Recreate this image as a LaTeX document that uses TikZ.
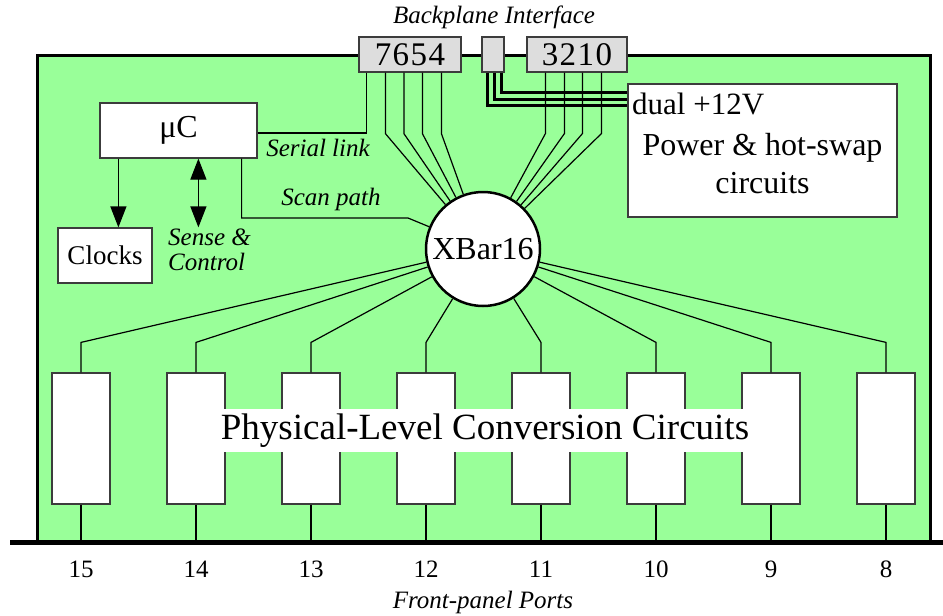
\documentclass[tikz,border=0pt]{standalone}
\usepackage{fontspec}
\setmainfont{Liberation Serif}
\usetikzlibrary{arrows.meta,calc}
\definecolor{boardgreen}{RGB}{153,255,153}
\definecolor{conngray}{RGB}{221,221,221}
\definecolor{edgegray}{RGB}{60,60,60}
\newcommand\setfs[1]{\fontsize{#1}{#1}\selectfont}
\begin{document}
\begin{tikzpicture}[x=1pt,y=-1pt,
  wire/.style={line width=1.2, black},
  pwr/.style={line width=2.5, black},
  blk/.style={draw=edgegray, line width=1.2, fill=white, inner sep=0},
  conn/.style={draw=edgegray, line width=1.2, fill=conngray, inner sep=0, font=\setfs{33}, minimum height=35},
  lbl/.style={inner sep=0, font=\itshape\setfs{25}},
  num/.style={inner sep=0, font=\setfs{25}},
  arr/.style={wire, -{Triangle[width=16pt,length=21pt]}},
  darr/.style={wire, {Triangle[width=16pt,length=21pt]}-{Triangle[width=16pt,length=21pt]}}
]
\useasboundingbox (0,0) rectangle (943,616);
% board
\fill[boardgreen] (37,55) rectangle (930,542);
\draw[line width=3] (37,542) -- (37,55) -- (930,55) -- (930,542);
\draw[line width=5] (10,542.5) -- (943,542.5);
\coordinate (bar) at (0,542);

% backplane connectors
\node[conn, minimum width=102] (c7654) at (410,54.5) {7\kern1.5pt6\kern1.5pt5\kern1.5pt4};
\node[conn, minimum width=22] (cpwr) at (493,54.5) {};
\node[conn, minimum width=100] (c3210) at (577,54.5) {3\kern1.5pt2\kern1.5pt1\kern1.5pt0};

% main blocks
\node[blk, minimum width=157, minimum height=55, font=\setfs{32}] (uc) at (178.5,130.5) {μC};
\node[blk, minimum width=94, minimum height=55, font=\setfs{27}] (clk) at (105,255.5) {Clocks};
\node[blk, minimum width=269, minimum height=133] (pb) at (762.5,150.5) {};
\node[inner sep=0, anchor=west, font=\setfs{31}] (dual) at (632,104) {dual +12V};
\node[inner sep=0, align=center, font=\fontsize{32}{38}\selectfont] (pwrtxt) at (762.5,164) {Power \& hot-swap\\circuits};
\node[circle, draw, line width=2.5, fill=white, minimum size=114, inner sep=0, font=\setfs{32}] (xbar) at (483,249) {XBar16};

% wires from connectors to crossbar
\foreach \dx in {27,45.5,64,83}
  \draw[wire] ([xshift=\dx]c7654.south west) -- ++(0,61) -- (xbar);
\foreach \dx in {19,38,56,75}
  \draw[wire] ([xshift=\dx]c3210.south west) -- ++(0,61) -- (xbar);

% serial link
\draw[wire] ([xshift=8]c7654.south west) |- ([yshift=-2.5]uc.east);
% scan path
\coordinate (sp) at (408,218);
\draw[wire] ([xshift=-16]uc.south east) |- (sp) -- (xbar);

% power lines
\draw[pwr] ([xshift=6]cpwr.south west) |- ([yshift=-22]pb.north west);
\draw[pwr] ([xshift=13]cpwr.south west) |- ([yshift=-16]pb.north west);
\draw[pwr] ([xshift=20]cpwr.south west) |- ([yshift=-9]pb.north west);

% arrows
\coordinate (a1) at ([xshift=19]uc.south west);
\draw[arr] (a1) -- (a1 |- clk.north);
\coordinate (a2) at ([xshift=99]uc.south west);
\draw[darr] (a2) -- (a2 |- clk.north);

% physical-level boxes
\foreach \i in {0,...,7} {
  \pgfmathtruncatemacro\n{15-\i}
  \node[blk, minimum width=58, minimum height=131] (b\i) at (81+115*\i,438.5) {};
  \draw[wire] (b\i.north) -- ++(0,-30) -- (xbar);
  \draw[wire] (b\i.south) -- (b\i.south |- bar);
  \node[num] (n\i) at (81+115*\i,569) {\n};
}
\node[fill=white, inner xsep=2, inner ysep=4.5, font=\setfs{37}] (plc) at (485,430.5) {Physical-Level Conversion Circuits};

% labels
\node[lbl] (bpi) at (494,17) {Backplane Interface};
\node[lbl] (fpp) at (483,602) {Front-panel Ports};
\node[lbl] (sl) at (318,148) {Serial link};
\node[lbl] (spl) at (331,199) {Scan path};
\node[lbl, align=left, anchor=west, font=\itshape\fontsize{25}{25}\selectfont] (sc) at (168,250) {Sense \&\\Control};
\end{tikzpicture}
\end{document}
